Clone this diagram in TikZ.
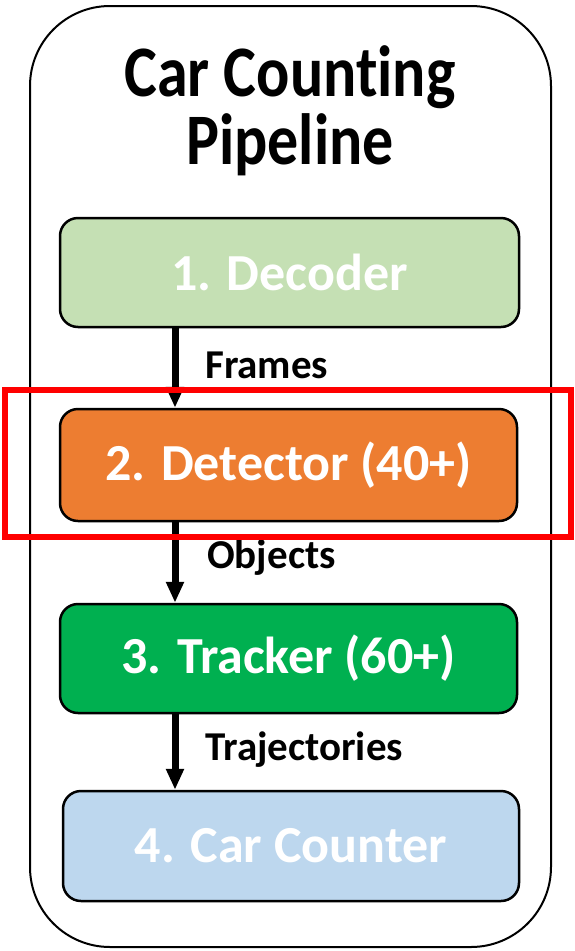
\documentclass[tikz,border=0pt]{standalone}
\usepackage{graphicx}
\usepackage{fontspec}
\setmainfont{Carlito}[Ligatures=NoCommon]
\usetikzlibrary{arrows.meta}
\definecolor{cdec}{HTML}{C5E0B4}
\definecolor{cdet}{HTML}{ED7D31}
\definecolor{ctrk}{HTML}{00B050}
\definecolor{ccnt}{HTML}{BDD7EE}
\definecolor{cred}{HTML}{FF0000}
\newcommand{\tallt}[1]{\scalebox{1}[1.17]{#1}}
\begin{document}
\begin{tikzpicture}[x=1pt,y=-1pt,
  stage/.style={draw=black, line width=2.5pt, rounded corners=18pt, text=white,
    font=\fontsize{52}{60}\selectfont\bfseries, inner sep=0pt},
  flowarr/.style={line width=7pt, -{Triangle[length=21pt,width=17pt]}},
  flowlbl/.style={anchor=base west, inner sep=0pt, font=\fontsize{41}{48}\selectfont\bfseries}]
\useasboundingbox (0,0) rectangle (574,951);
\node[draw=black, line width=2pt, rounded corners=80pt, minimum width=521pt, minimum height=941pt, inner sep=0pt] (outer) at (290.5,476.5) {};
\node[align=center, font=\fontsize{62}{68}\selectfont\bfseries, anchor=base, inner sep=0pt] (title) at (290,164) {\tallt{Car Counting}\\\tallt{Pipeline}};
\node[stage, fill=cdec, minimum width=459pt, minimum height=109pt] (b1) at (289.5,272.5) {1. Decoder};
\node[stage, fill=cdet, minimum width=457pt, minimum height=112pt] (b2) at (288.5,465) {2. Detector (40+)};
\node[stage, fill=ctrk, minimum width=457pt, minimum height=109pt] (b3) at (288.5,658.5) {3. Tracker (60+)};
\node[stage, fill=ccnt, minimum width=456pt, minimum height=110pt] (b4) at (291,846) {4. Car Counter};
\coordinate (ax) at (175,0);
\draw[flowarr] (b1.south -| ax) -- (b2.north -| ax);
\draw[flowarr] (b2.south -| ax) -- (b3.north -| ax);
\draw[flowarr] (b3.south -| ax) -- (b4.north -| ax);
\node[flowlbl] (l1) at (205,378) {Frames};
\node[flowlbl] (l2) at (207,568) {Objects};
\node[flowlbl] (l3) at (205,760) {Trajectories};
\node[draw=cred, line width=6pt, minimum width=566pt, minimum height=147pt, inner sep=0pt] (hl) at (288,463.5) {};
\end{tikzpicture}
\end{document}
